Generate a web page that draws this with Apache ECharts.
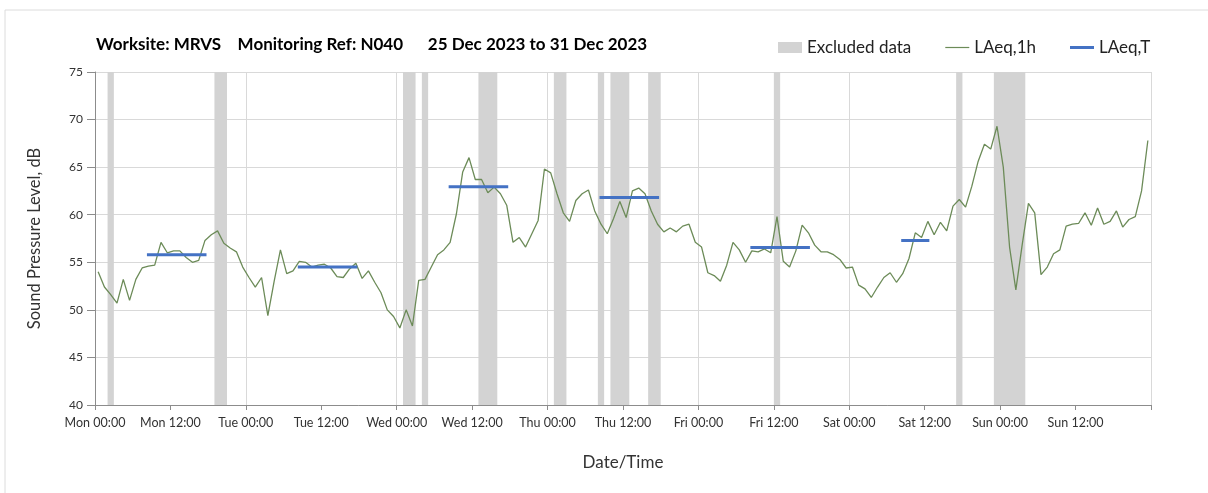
<!DOCTYPE html>
<html>
<head>
<meta charset="utf-8">
<title>N040 noise monitoring</title>
<script src="https://cdn.jsdelivr.net/npm/echarts@6/dist/echarts.min.js"></script>
<style>
  html, body { margin: 0; padding: 0; background: #fff; }
  #chart { width: 1208px; height: 493px; }
</style>
</head>
<body>
<div id="chart"></div>
<script>
// hourly LAeq,1h values, Mon 00:00 -> Sun 23:00 (plotted at the middle of each hour)
const laeq1h = [
  54.0, 52.4, 51.6, 50.7, 53.2, 51.0, 53.2, 54.4, 54.6, 54.7, 57.1, 56.0,
  56.2, 56.2, 55.5, 55.0, 55.2, 57.3, 57.9, 58.3, 57.0, 56.5, 56.1, 54.5,
  53.4, 52.4, 53.4, 49.4, 53.0, 56.3, 53.8, 54.1, 55.1, 55.0, 54.5, 54.7,
  54.8, 54.4, 53.5, 53.4, 54.3, 54.9, 53.3, 54.1, 52.9, 51.8, 50.0, 49.3,
  48.1, 50.0, 48.3, 53.1, 53.2, 54.5, 55.8, 56.3, 57.1, 60.1, 64.5, 66.0,
  63.7, 63.7, 62.3, 62.9, 62.2, 61.0, 57.1, 57.6, 56.6, 58.0, 59.4, 64.8,
  64.4, 62.2, 60.2, 59.3, 61.5, 62.2, 62.6, 60.4, 59.0, 58.0, 59.6, 61.4,
  59.7, 62.5, 62.8, 62.2, 60.4, 59.0, 58.2, 58.6, 58.2, 58.8, 59.0, 57.1,
  56.6, 53.9, 53.6, 53.0, 54.7, 57.1, 56.3, 55.0, 56.2, 56.1, 56.4, 56.0,
  59.8, 55.1, 54.5, 56.2, 58.9, 58.1, 56.8, 56.1, 56.1, 55.8, 55.3, 54.4,
  54.5, 52.6, 52.2, 51.3, 52.4, 53.4, 53.9, 52.9, 53.8, 55.4, 58.1, 57.6,
  59.3, 57.9, 59.2, 58.3, 60.9, 61.6, 60.8, 63.0, 65.6, 67.4, 66.9, 69.3,
  65.0, 56.6, 52.1, 56.8, 61.2, 60.2, 53.7, 54.5, 55.9, 56.3, 58.8, 59.0,
  59.1, 60.2, 58.9, 60.7, 59.0, 59.3, 60.4, 58.7, 59.5, 59.8, 62.5, 67.8
];

// LAeq,T daytime periods (hours from Mon 00:00)
const periodStart = [8.5, 32.5, 56.5, 80.5, 104.5, 128.5];
const periodEnd = [17.5, 41.5, 65.5, 89.5, 113.5, 132.5];
const laeqT = [55.8, 54.5, 62.95, 61.8, 56.55, 57.3];

// excluded data (hours from Mon 00:00)
const exclStart = [2, 19, 49, 52, 61, 73, 80, 82, 88, 108, 137, 143];
const exclEnd = [3, 21, 51, 53, 64, 75, 81, 85, 90, 109, 138, 148];

const dayNames = ['Mon', 'Tue', 'Wed', 'Thu', 'Fri', 'Sat', 'Sun'];

const fontFam = 'Lato, "Open Sans", sans-serif';

let chart = echarts.init(document.getElementById('chart'));

let lineData = laeq1h.map((v, i) => [i + 0.5, v]);

// one series, segments broken with '-'
let tData = [];
laeqT.forEach((v, i) => {
  if (i > 0) tData.push('-');
  tData.push([periodStart[i], v]);
  tData.push([periodEnd[i], v]);
});

let exclAreas = exclStart.map((s, i) => [{ xAxis: s }, { xAxis: exclEnd[i] }]);

let option = {
  animation: false,
  textStyle: { fontFamily: fontFam },
  title: {
    text: 'Worksite: MRVS    Monitoring Ref: N040      25 Dec 2023 to 31 Dec 2023',
    left: 91,
    top: 31,
    textStyle: { fontFamily: fontFam, fontSize: 17, fontWeight: 'bold', color: '#000' }
  },
  legend: {
    left: 773,
    top: 34,
    itemWidth: 24,
    itemHeight: 11,
    itemGap: 34,
    textStyle: { fontFamily: fontFam, fontSize: 17, color: '#222' },
    data: [
      { name: 'Excluded data', icon: 'rect', itemStyle: { color: '#d3d3d3' } },
      // thin bars as line icons (no symbol)
      { name: 'LAeq,1h', icon: 'path://M0,0H24V1.2H0Z' },
      { name: 'LAeq,T', icon: 'path://M0,0H24V3H0Z' }
    ]
  },
  graphic: [{
    type: 'rect',
    shape: { x: 5, y: 10, width: 1220, height: 500 },
    style: { fill: 'none', stroke: '#dcdcdc', lineWidth: 1 },
    silent: true
  }],
  grid: { left: 95, right: 57, top: 72, bottom: 88 },
  xAxis: {
    type: 'value',
    min: 0,
    max: 168,
    interval: 12,
    name: 'Date/Time',
    nameLocation: 'middle',
    nameGap: 49,
    nameTextStyle: { fontFamily: fontFam, fontSize: 17, color: '#333' },
    axisLine: { lineStyle: { color: '#8c8c8c' } },
    axisTick: { length: 5, lineStyle: { color: '#8c8c8c' } },
    axisLabel: {
      margin: 11,
      fontSize: 12.5,
      color: '#333',
      formatter: function (v) {
        if (v >= 168) return '';
        let d = Math.floor(v / 24);
        return dayNames[d] + ' ' + (v % 24 === 0 ? '00:00' : '12:00');
      }
    },
    splitLine: {
      show: true,
      // only the midnight lines are drawn
      lineStyle: { color: ['#d9d9d9', 'rgba(0,0,0,0)'] }
    }
  },
  yAxis: {
    type: 'value',
    min: 40,
    max: 75,
    interval: 5,
    name: 'Sound Pressure Level, dB',
    nameLocation: 'middle',
    nameGap: 52,
    nameTextStyle: { fontFamily: fontFam, fontSize: 16.5, color: '#333' },
    axisLine: { show: true, lineStyle: { color: '#8c8c8c' } },
    axisTick: { show: true, length: 8, lineStyle: { color: '#8c8c8c' } },
    axisLabel: { margin: 12, fontSize: 12, color: '#333' },
    splitLine: { lineStyle: { color: '#d9d9d9' } }
  },
  series: [
    {
      name: 'Excluded data',
      type: 'line',
      data: [],
      z: 1,
      itemStyle: { color: '#d3d3d3' },
      markArea: {
        silent: true,
        itemStyle: { color: '#d3d3d3' },
        data: exclAreas
      }
    },
    {
      name: 'LAeq,1h',
      type: 'line',
      z: 3,
      data: lineData,
      symbol: 'none',
      itemStyle: { color: '#6c8b58' },
      lineStyle: { color: '#6c8b58', width: 1.3 }
    },
    {
      name: 'LAeq,T',
      type: 'line',
      z: 4,
      data: tData,
      symbol: 'none',
      connectNulls: false,
      itemStyle: { color: '#4472c4' },
      lineStyle: { color: '#4472c4', width: 3, cap: 'square' }
    }
  ]
};

chart.setOption(option);
window.addEventListener('resize', () => {
  chart.resize();
});
</script>
</body>
</html>
